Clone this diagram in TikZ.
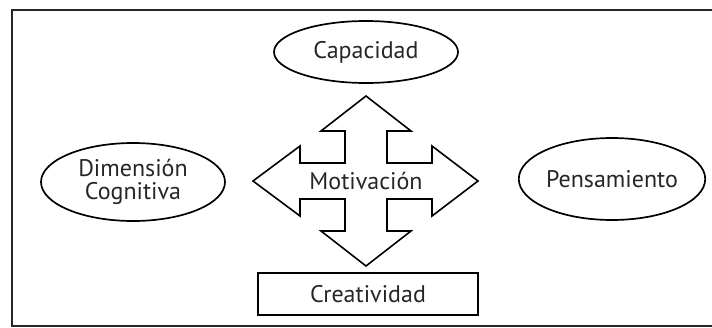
\documentclass[tikz,border=0pt]{standalone}
\usepackage{fontspec}
\setmainfont[Ligatures=CommonOff]{PT Sans}
\usetikzlibrary{shapes.geometric, positioning}
\tikzset{
  x=1pt, y=-1pt,
  every node/.style={font=\fontsize{24}{22.5}\selectfont, text=black!85},
  oval/.style={ellipse, draw, line width=1.7pt, inner sep=0pt, align=center},
  box/.style={rectangle, draw, line width=1.9pt, minimum width=220pt, minimum height=42pt},
  cross/.style={draw, line width=1.6pt, line join=miter},
}

\begin{document}
\begin{tikzpicture}
  \useasboundingbox (0,0) rectangle (712,327);
  \draw[line width=2.4pt, black!85] (12,10) rectangle (730,326);

  \node[oval, minimum width=184pt, minimum height=62pt] (cap) at (366,52) {Capacidad};
  \node[oval, minimum width=184pt, minimum height=78pt] (dim) at (133,182) {Dimensión\\Cognitiva};
  \node[oval, minimum width=182pt, minimum height=82pt] (pen) at (612,179) {Pensamiento};
  \node[box] (cre) at (368,294) {Creatividad};

  \coordinate (mid) at (366,181);
  \draw[cross] (mid) ++(0,-85) -- ++(45,35) -- ++(-24,0) -- ++(0,32) -- ++(45,0)
    -- ++(0,-17) -- ++(46,35) -- ++(-46,35) -- ++(0,-17) -- ++(-45,0) -- ++(0,32)
    -- ++(24,0) -- ++(-45,35) -- ++(-45,-35) -- ++(24,0) -- ++(0,-32) -- ++(-45,0)
    -- ++(0,17) -- ++(-47,-35) -- ++(47,-35) -- ++(0,17) -- ++(45,0) -- ++(0,-32)
    -- ++(-24,0) -- cycle;
  \node (mot) at (mid) {Motivación};
\end{tikzpicture}
\end{document}
